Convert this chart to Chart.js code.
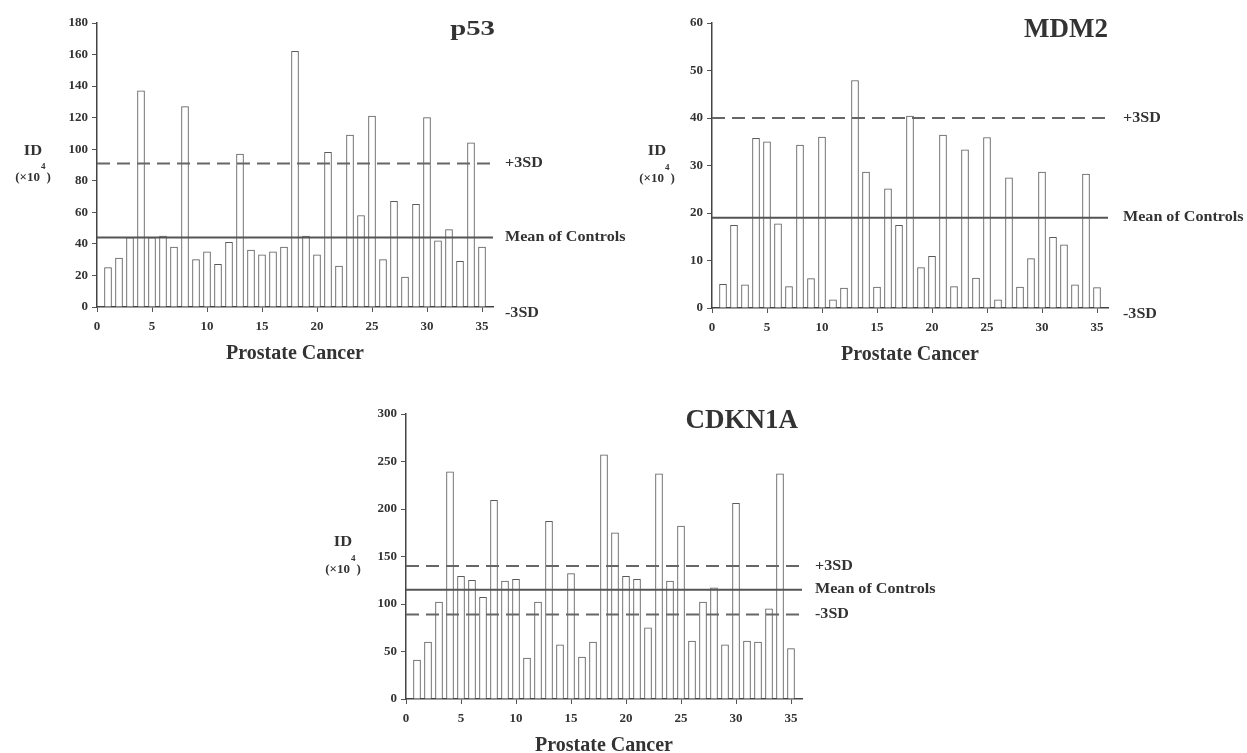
<!DOCTYPE html>
<html lang="en">
<head>
    <meta charset="UTF-8">
    <title>p53, MDM2 and CDKN1A in Prostate Cancer</title>
    <script src="https://cdn.jsdelivr.net/npm/chart.js"></script>
    <style>
        body {
            margin: 0;
            background: #ffffff;
            overflow: hidden;
        }
        .panel {
            position: absolute;
        }
    </style>
</head>
<body>
    <div class="panel" style="left:0px; top:0px;"><canvas id="p53Chart" width="640" height="372"></canvas></div>
    <div class="panel" style="left:620px; top:0px;"><canvas id="mdm2Chart" width="627" height="372"></canvas></div>
    <div class="panel" style="left:300px; top:380px;"><canvas id="cdkn1aChart" width="660" height="373"></canvas></div>

    <script>
        // Case numbers (x axis) and tick labels
        const cases = [1,2,3,4,5,6,7,8,9,10,11,12,13,14,15,16,17,18,19,20,21,22,23,24,25,26,27,28,29,30,31,32,33,34,35];
        const xTicks = [0, 5, 10, 15, 20, 25, 30, 35];

        // ID (x10^4) per prostate cancer case
        const p53Values = [25, 31, 44, 137, 44, 45, 38, 127, 30, 35, 27, 41, 97, 36, 33, 35, 38, 162,
                           45, 33, 98, 26, 109, 58, 121, 30, 67, 19, 65, 120, 42, 49, 29, 104, 38];
        const mdm2Values = [5.0, 17.4, 4.9, 35.7, 35.0, 17.7, 4.5, 34.3, 6.2, 36.0, 1.7, 4.2, 47.9, 28.6, 4.4, 25.1, 17.4, 40.4,
                            8.5, 10.9, 36.4, 4.5, 33.3, 6.3, 35.9, 1.7, 27.4, 4.4, 10.4, 28.6, 14.9, 13.3, 4.9, 28.2, 4.3];
        const cdkn1aValues = [41, 60, 102, 239, 129, 125, 107, 209, 124, 126, 43, 102, 187, 57, 132, 44, 60, 257,
                              175, 129, 126, 75, 237, 124, 182, 61, 102, 117, 57, 206, 61, 60, 95, 237, 53];

        // control reference lines: +3SD, mean, -3SD (null = below zero)
        const lineLabels = ['+3SD', 'Mean of Controls', '-3SD'];
        const p53Lines = [91, 44, null];
        const mdm2Lines = [40, 19, null];
        const cdkn1aLines = [140, 115, 89];

        const serif = '"Liberation Serif", "Times New Roman", "DejaVu Serif", serif';
        const ink = '#333333';

        function drawText(ctx, text, x, y, size, align, sx, baseline) {
            ctx.save();
            ctx.font = 'bold ' + size + 'px ' + serif;
            ctx.fillStyle = ink;
            ctx.textAlign = align;
            ctx.textBaseline = baseline || 'middle';
            ctx.translate(x, y);
            ctx.scale(sx, 1);
            ctx.fillText(text, 0, 0);
            ctx.restore();
        }

        // reference lines, labels and titles drawn against the chart's own scales
        const decorPlugin = {
            id: 'decor',
            afterDatasetsDraw(chart) {
                const ctx = chart.ctx;
                const area = chart.chartArea;
                const yScale = chart.scales.y;
                const o = chart.options.plugins.decor;

                o.lines.forEach((v, i) => {
                    let y;
                    if (v !== null) {
                        y = yScale.getPixelForValue(v);
                        ctx.save();
                        ctx.beginPath();
                        ctx.strokeStyle = i === 1 ? '#555' : '#666';
                        ctx.lineWidth = 2;
                        ctx.setLineDash(i === 1 ? [] : [13, 7]);
                        ctx.moveTo(area.left, y);
                        ctx.lineTo(area.right, y);
                        ctx.stroke();
                        ctx.restore();
                    } else {
                        y = area.bottom + 6;
                    }
                    drawText(ctx, lineLabels[i], area.right + o.labelGap, y, 14, 'left', 1.15);
                });

                // chart title
                drawText(ctx, o.title, area.right + o.titleDx, area.top + o.titleDy, o.titleSize, 'right', o.titleSx, 'alphabetic');

                // x axis title
                drawText(ctx, 'Prostate Cancer', (area.left + area.right) / 2, area.bottom + 52, 20, 'center', 1, 'alphabetic');

                // y axis title
                const mid = (area.top + area.bottom) / 2;
                const cx = area.left - o.idOffset;
                drawText(ctx, 'ID', cx, mid - 14, 15, 'center', 1.1);
                ctx.save();
                ctx.font = 'bold 13px ' + serif;
                const w1 = ctx.measureText('(\u00d710').width;
                ctx.font = 'bold 9px ' + serif;
                const w2 = ctx.measureText('4').width + 2;
                ctx.font = 'bold 13px ' + serif;
                const w3 = ctx.measureText(')').width;
                const start = cx - (w1 + w2 + w3) / 2;
                ctx.fillStyle = ink;
                ctx.textBaseline = 'middle';
                ctx.textAlign = 'left';
                ctx.fillText('(\u00d710', start, mid + 13);
                ctx.fillText(')', start + w1 + w2, mid + 13);
                ctx.font = 'bold 9px ' + serif;
                ctx.fillText('4', start + w1 + 1, mid + 2);
                ctx.restore();
            }
        };

        function makeChart(id, values, yMax, yStep, lines, deco, box) {
            return new Chart(document.getElementById(id), {
                type: 'bar',
                data: {
                    datasets: [{
                        data: cases.map((c, i) => ({ x: c, y: values[i] })),
                        backgroundColor: '#ffffff',
                        borderColor: '#5a5a5a',
                        borderWidth: 1,
                        barThickness: 7
                    }]
                },
                options: {
                    responsive: false,
                    animation: false,
                    layout: { padding: { left: 0, top: box.top, right: box.right, bottom: 0 } },
                    plugins: {
                        legend: { display: false },
                        tooltip: { enabled: false },
                        decor: Object.assign({ lines: lines }, deco)
                    },
                    scales: {
                        x: {
                            type: 'linear',
                            min: 0,
                            max: 36,
                            offset: false,
                            afterBuildTicks: (scale) => { scale.ticks = xTicks.map(v => ({ value: v })); },
                            afterFit: (scale) => { scale.height = box.xHeight; },
                            grid: { drawOnChartArea: false, drawTicks: true, tickLength: 5, color: '#555', offset: false },
                            border: { display: true, color: '#444', width: 1.5 },
                            ticks: { color: ink, padding: 7, font: { family: serif, size: 13, weight: 'bold' } }
                        },
                        y: {
                            min: 0,
                            max: yMax,
                            afterFit: (scale) => { scale.width = box.yWidth; },
                            grid: { drawOnChartArea: false, drawTicks: true, tickLength: 5, color: '#555' },
                            border: { display: true, color: '#444', width: 1.5 },
                            ticks: { stepSize: yStep, color: ink, padding: 4, font: { family: serif, size: 13, weight: 'bold' } }
                        }
                    }
                },
                plugins: [decorPlugin]
            });
        }

        makeChart('p53Chart', p53Values, 180, 20, p53Lines,
            { title: 'p53', titleSize: 20, titleSx: 1.44, titleDx: 2, titleDy: 12, labelGap: 12, idOffset: 64 },
            { top: 23, right: 147, yWidth: 97, xHeight: 65 });

        makeChart('mdm2Chart', mdm2Values, 60, 10, mdm2Lines,
            { title: 'MDM2', titleSize: 27, titleSx: 1, titleDx: 0, titleDy: 13.5, labelGap: 15, idOffset: 55 },
            { top: 23, right: 139, yWidth: 92, xHeight: 64 });

        makeChart('cdkn1aChart', cdkn1aValues, 300, 50, cdkn1aLines,
            { title: 'CDKN1A', titleSize: 27, titleSx: 1, titleDx: -4, titleDy: 14, labelGap: 13, idOffset: 63 },
            { top: 34, right: 158, yWidth: 106, xHeight: 54 });
    </script>
</body>
</html>
